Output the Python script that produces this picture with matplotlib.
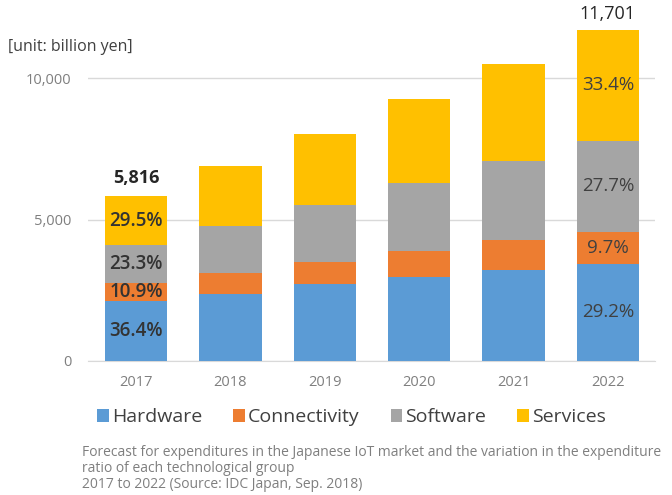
import matplotlib
matplotlib.use("Agg")
import matplotlib.pyplot as plt
import numpy as np

plt.rcParams['font.family'] = ['Open Sans', 'DejaVu Sans']

# values (billion yen)
years = ["2017", "2018", "2019", "2020", "2021", "2022"]
hardware = [2117, 2370, 2700, 2950, 3220, 3417]
connectivity = [634, 740, 800, 950, 1040, 1135]
software = [1355, 1650, 2020, 2400, 2810, 3241]
services = [1710, 2130, 2510, 2960, 3440, 3908]
series_names = ["Hardware", "Connectivity", "Software", "Services"]
colors = ["#5B9BD5", "#ED7D31", "#A5A5A5", "#FFC000"]

# ratio labels shown on first and last bar
pct_2017 = ["36.4%", "10.9%", "23.3%", "29.5%"]
pct_2022 = ["29.2%", "9.7%", "27.7%", "33.4%"]

caption = ("Forecast for expenditures in the Japanese IoT market and the variation in the expenditure\n"
           "ratio of each technological group\n"
           "2017 to 2022 (Source: IDC Japan, Sep. 2018)")

fig = plt.figure(figsize=(6.72, 4.95), dpi=100)
ax = fig.add_axes([0.131, 0.2713, 0.8438, 0.6846])

x = np.arange(len(years))
bottom = np.zeros(len(years))
segs = []
for vals, name, c in zip([hardware, connectivity, software, services], series_names, colors):
    vals = np.array(vals, dtype=float)
    ax.bar(x, vals, 0.66, bottom=bottom, color=c, label=name, zorder=3)
    segs.append((bottom.copy(), vals))
    bottom += vals

# percentages inside segments
for i, (b, v) in enumerate(segs):
    ax.text(x[0], b[0] + v[0] / 2, pct_2017[i], ha="center", va="center",
            fontsize=13.5, color="#333333", fontweight="semibold", zorder=4)
    ax.text(x[-1], b[-1] + v[-1] / 2, pct_2022[i], ha="center", va="center",
            fontsize=13.5, color="#404040", zorder=4)

# totals
ax.text(x[0], bottom[0] + 350, f"{int(bottom[0]):,}", ha="center", va="bottom",
        fontsize=13, fontweight="bold", color="#262626")
ax.text(x[-1], bottom[-1] + 250, f"{int(bottom[-1]):,}", ha="center", va="bottom",
        fontsize=13, color="#262626")

ax.set_xlim(-0.51, 5.5)
ax.set_ylim(0, 12000)
ax.set_xticks(x)
ax.set_xticklabels(years)
ax.set_yticks([0, 5000, 10000])
ax.set_yticklabels(["0", "5,000", "10,000"])
ax.tick_params(axis="both", length=0, labelsize=10.5, labelcolor="#7F7F7F")
ax.tick_params(axis="y", pad=12)
ax.tick_params(axis="x", pad=10)
ax.yaxis.grid(True, color="#D9D9D9", lw=1, zorder=0)
for s in ["top", "right", "left"]:
    ax.spines[s].set_visible(False)
ax.spines["bottom"].set_color("#D9D9D9")

fig.text(0.012, 0.905, "[unit: billion yen]", fontsize=11.5, color="#404040", va="center")

fig.legend(loc="center", bbox_to_anchor=(0.523, 0.157), ncol=4, frameon=False,
           fontsize=14, handlelength=0.6, handleheight=0.6, handletextpad=0.15,
           columnspacing=1.6, labelcolor="#404040")

fig.text(0.122, 0.054, caption, fontsize=10, color="#7F7F7F", va="center",
         linespacing=1.1)

fig.savefig("out.png", dpi=100)
